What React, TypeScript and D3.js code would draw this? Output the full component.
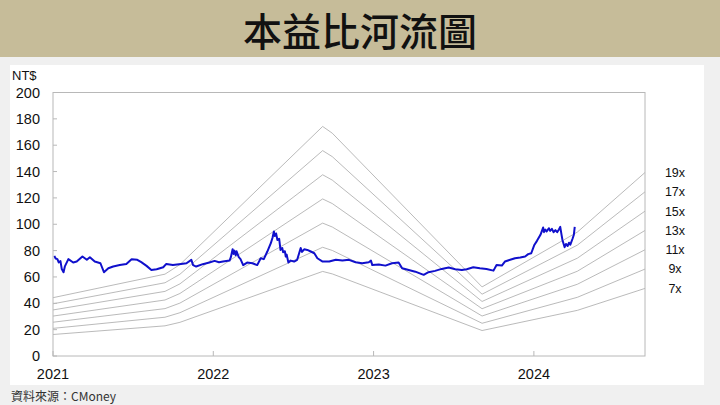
import * as d3 from "d3";

// closing price (NT$); one row per year
const priceDates2021 = [
  "2021-01-04", "2021-01-07", "2021-01-11", "2021-01-14", "2021-01-18", "2021-01-21", "2021-01-25", "2021-01-28",
  "2021-02-05", "2021-02-16", "2021-02-24", "2021-03-09", "2021-03-19", "2021-03-26", "2021-04-06", "2021-04-19",
  "2021-04-27", "2021-05-07", "2021-05-18", "2021-06-02", "2021-06-17", "2021-06-29", "2021-07-12", "2021-07-21",
  "2021-08-02", "2021-08-13", "2021-08-25", "2021-09-09", "2021-09-16", "2021-10-01", "2021-10-15", "2021-11-01",
  "2021-11-12", "2021-11-16", "2021-11-23", "2021-12-08", "2021-12-23",
];
const priceValues2021 = [
  76, 74, 73.5, 71, 72, 66, 63.6, 68,
  73.5, 71, 71.7, 75.5, 73, 75, 71.7, 70.4,
  63.6, 66.6, 67.9, 69, 69.9, 73.5, 73, 71.2,
  68.4, 65.3, 65.9, 67.4, 69.9, 69, 69.7, 70.4,
  73, 69, 67.9, 69.7, 71,
];
const priceDates2022 = [
  "2022-01-04", "2022-01-14", "2022-01-23", "2022-02-07", "2022-02-10", "2022-02-14", "2022-02-16", "2022-02-18",
  "2022-02-21", "2022-02-23", "2022-02-28", "2022-03-04", "2022-03-10", "2022-03-19", "2022-03-31", "2022-04-11",
  "2022-04-19", "2022-04-26", "2022-05-04", "2022-05-12", "2022-05-16", "2022-05-19", "2022-05-21", "2022-05-24",
  "2022-05-27", "2022-05-31", "2022-06-03", "2022-06-07", "2022-06-09", "2022-06-13", "2022-06-15", "2022-06-17",
  "2022-06-21", "2022-06-26", "2022-07-04", "2022-07-11", "2022-07-19", "2022-07-22", "2022-07-27", "2022-08-03",
  "2022-08-11", "2022-08-19", "2022-08-26", "2022-09-07", "2022-09-22", "2022-10-07", "2022-10-22", "2022-11-06",
  "2022-11-21", "2022-12-06", "2022-12-21", "2022-12-26", "2022-12-29",
];
const priceValues2022 = [
  72.2, 71.2, 71.7, 72.4, 75, 81, 77.5, 80,
  76.5, 79.5, 75, 73.5, 69, 70.9, 70.4, 69,
  74.2, 73.5, 79.3, 85.6, 90, 94.5, 91, 93,
  88, 89, 80.5, 82, 78.8, 79.5, 75.5, 77,
  70.9, 72.4, 71.7, 73, 82, 79, 81, 80.5,
  79.3, 78, 74.2, 71.7, 71.7, 73, 72.4, 73,
  71.2, 70.4, 71.2, 72.4, 69,
];
const priceDates2023 = [
  "2023-01-13", "2023-01-28", "2023-02-12", "2023-02-27", "2023-03-07", "2023-03-22", "2023-04-06", "2023-04-25",
  "2023-05-06", "2023-05-21", "2023-06-05", "2023-06-21", "2023-07-06", "2023-07-21", "2023-08-01", "2023-08-16",
  "2023-08-31", "2023-09-15", "2023-10-01", "2023-10-08", "2023-10-20", "2023-10-27", "2023-11-08", "2023-11-19",
  "2023-12-01", "2023-12-12", "2023-12-19", "2023-12-26",
];
const priceValues2023 = [
  69.4, 68.6, 70.4, 70.9, 66.6, 65.3, 64, 61.6,
  63.6, 64.6, 66.1, 67.1, 65.9, 65.3, 65.9, 67.4,
  66.6, 66.1, 64.8, 69, 68.6, 71.7, 73, 74.2,
  74.7, 75.5, 77.3, 78,
];
const priceDates2024 = [
  "2024-01-02", "2024-01-08", "2024-01-16", "2024-01-22", "2024-01-24", "2024-01-27", "2024-01-30", "2024-02-04",
  "2024-02-07", "2024-02-11", "2024-02-15", "2024-02-19", "2024-02-23", "2024-02-27", "2024-03-01", "2024-03-04",
  "2024-03-06", "2024-03-11", "2024-03-14", "2024-03-18", "2024-03-21", "2024-03-24", "2024-03-29", "2024-04-01",
  "2024-04-03",
];
const priceValues2024 = [
  84.3, 87.4, 92, 97.5, 94, 96, 94.5, 97,
  95, 96.5, 94, 95.5, 94, 96, 98, 92,
  88.1, 82.6, 85, 83.5, 86, 84.5, 89, 92,
  98,
];

// trailing EPS that drives the river bands
const epsDates = [
  "2021-01-01", "2021-09-13", "2021-10-17", "2022-09-07", "2022-09-29", "2023-09-05", "2024-04-09", "2024-09-10",
];
const epsValues = [2.33, 3.27, 3.65, 9.17, 8.9, 2.76, 4.95, 7.33];

const multiples = [19, 17, 15, 13, 11, 9, 7];
const yTicks = [0, 20, 40, 60, 80, 100, 120, 140, 160, 180, 200];
const yearTicks = ["2021", "2022", "2023", "2024"];

const W = 720;
const H = 405;
const plot = { left: 53, right: 645, top: 92.5, bottom: 356 };
const font = "'Liberation Sans', Arial, sans-serif";
const cjk = "'Noto Sans CJK TC', sans-serif";

const parse = d3.timeParse("%Y-%m-%d");

type Pt = { date: Date; v: number };

export default function App() {
  const x = d3
    .scaleTime()
    .domain([parse("2021-01-01")!, parse("2024-09-10")!])
    .range([plot.left, plot.right]);
  const y = d3.scaleLinear().domain([0, 200]).range([plot.bottom, plot.top]);

  const priceDates = [...priceDates2021, ...priceDates2022, ...priceDates2023, ...priceDates2024];
  const priceValues = [...priceValues2021, ...priceValues2022, ...priceValues2023, ...priceValues2024];
  const price: Pt[] = priceDates.map((d, i) => ({ date: parse(d)!, v: priceValues[i] }));
  const eps: Pt[] = epsDates.map((d, i) => ({ date: parse(d)!, v: epsValues[i] }));

  const priceLine = d3
    .line<Pt>()
    .x((d) => x(d.date))
    .y((d) => y(d.v));

  const lastEps = epsValues[epsValues.length - 1];

  return (
    <svg
      width={W}
      height={H}
      style={{ position: "absolute", left: 0, top: 0, background: "#f0f0f0" }}
    >
      {/* header band */}
      <rect x={0} y={0} width={W} height={57} fill="#c6bc99" />
      <text x={W / 2} y={45.5} textAnchor="middle" fontFamily={cjk} fontSize={39} fontWeight={500} fill="#111">
        本益比河流圖
      </text>

      {/* white panel */}
      <rect x={10} y={65} width={694} height={320} fill="#fff" />

      <text x={12} y={80} fontFamily={font} fontSize={13} fill="#111">
        NT$
      </text>

      {/* river bands */}
      {multiples.map((m) => {
        const band = d3
          .line<Pt>()
          .x((d) => x(d.date))
          .y((d) => y(d.v * m));
        return <path key={m} d={band(eps) ?? ""} fill="none" stroke="#a8a8a8" strokeWidth={0.8} />;
      })}

      {/* price */}
      <path d={priceLine(price) ?? ""} fill="none" stroke="#1010cc" strokeWidth={2} strokeLinejoin="round" />

      {/* frame */}
      <rect
        x={plot.left}
        y={plot.top}
        width={plot.right - plot.left}
        height={plot.bottom - plot.top}
        fill="none"
        stroke="#b8b8b8"
        strokeWidth={1}
      />

      {/* y axis */}
      {yTicks.map((t) => (
        <g key={t}>
          <line x1={plot.left} x2={plot.left + 4} y1={y(t)} y2={y(t)} stroke="#b8b8b8" />
          <text x={40} y={y(t)} dy="0.35em" textAnchor="end" fontFamily={font} fontSize={14.5} fill="#111">
            {t}
          </text>
        </g>
      ))}

      {/* x axis */}
      {yearTicks.map((yr) => {
        const xx = x(parse(`${yr}-01-01`)!);
        return (
          <g key={yr}>
            <line x1={xx} x2={xx} y1={plot.bottom} y2={plot.bottom - 5} stroke="#b8b8b8" />
            <text x={xx} y={379} textAnchor="middle" fontFamily={font} fontSize={14.5} fill="#111">
              {yr}
            </text>
          </g>
        );
      })}

      {/* band labels */}
      {multiples.map((m) => (
        <text
          key={m}
          x={675}
          y={y(lastEps * m)}
          dy="0.35em"
          textAnchor="middle"
          fontFamily={font}
          fontSize={12.5}
          fill="#111"
        >
          {m}x
        </text>
      ))}

      <text x={11} y={401} fontFamily={cjk} fontSize={12} fill="#333">
        資料來源：CMoney
      </text>
    </svg>
  );
}
